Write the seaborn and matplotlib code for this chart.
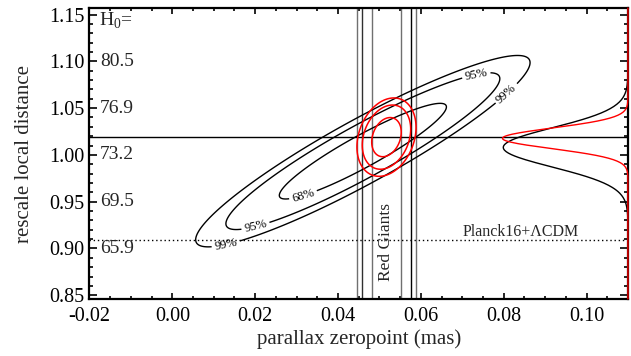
import numpy as np
import matplotlib
matplotlib.use('Agg')
import matplotlib.pyplot as plt
import seaborn as sns

# axis ranges / ticks
x_lim = [-0.02, 0.11]
y_lim = [0.846, 1.157]
x_ticks = [-0.02, 0.00, 0.02, 0.04, 0.06, 0.08, 0.10]
y_ticks = [0.85, 0.90, 0.95, 1.00, 1.05, 1.10, 1.15]

# H0 labels on the inside of the y axis
h0_pos = [1.10, 1.05, 1.00, 0.95, 0.90]
h0_text = ['80.5', '76.9', '73.2', '69.5', '65.9']

# black constraint (center, sigmas, correlation)
black_center = [0.046, 1.004]
black_sigma = [0.0133, 0.0337]
black_rho = 0.925

# red giants constraint
red_center = [0.0517, 1.019]
red_sigma = [0.00235, 0.0138]
red_rho = 0.25

# chi2 levels for 68 / 95 / 99 %
chi2_levels = [2.30, 6.18, 9.21]
level_names = ['68%', '95%', '99%']

# where the contour labels sit
label_pos = [(0.0315, 0.958), (0.0199, 0.927), (0.0127, 0.909),
             (0.0734, 1.085), (0.0806, 1.066)]

# red giant band lines
rg_x = [0.0447, 0.0458, 0.0481, 0.0553, 0.0577, 0.0589]
rg_col = ['#707070', '#303030', '#707070', '#707070', '#000000', '#707070']

# horizontal lines
local_line = 1.019
planck_line = 0.909

# marginal curves on the right (center, sigma, peak x)
black_marg = [1.008, 0.021, 0.0799]
red_marg = [1.0177, 0.011, 0.0797]

sns.set_theme(style='ticks')
plt.rcParams['font.family'] = ['Liberation Serif', 'DejaVu Serif']
plt.rcParams['mathtext.fontset'] = 'custom'
plt.rcParams['mathtext.rm'] = 'Liberation Serif'

fig = plt.figure(figsize=(6.31, 3.56), dpi=100)
ax = fig.add_axes([0.1418, 0.1601, 0.9952 - 0.1418, 0.9775 - 0.1601])

def chi2_grid(center, sigma, rho, X, Y):
    dx = (X - center[0]) / sigma[0]
    dy = (Y - center[1]) / sigma[1]
    return (dx**2 - 2 * rho * dx * dy + dy**2) / (1 - rho**2)

gx = np.linspace(x_lim[0], x_lim[1], 600)
gy = np.linspace(y_lim[0], y_lim[1], 600)
X, Y = np.meshgrid(gx, gy)

# red giant band
for xv, c in zip(rg_x, rg_col):
    ax.axvline(xv, color=c, lw=1.0)

ax.axhline(local_line, color='black', lw=1.0)
ax.axhline(planck_line, color='black', lw=1.0, ls=(0, (1, 2)))

cs = ax.contour(X, Y, chi2_grid(black_center, black_sigma, black_rho, X, Y),
                levels=chi2_levels, colors='black', linewidths=1.0)
ax.clabel(cs, fmt=dict(zip(chi2_levels, level_names)), fontsize=9,
          manual=label_pos, inline=True, inline_spacing=3)

ax.contour(X, Y, chi2_grid(red_center, red_sigma, red_rho, X, Y),
           levels=chi2_levels, colors='red', linewidths=1.1)

# marginals hanging from the right edge
yy = np.linspace(y_lim[0], y_lim[1], 400)
for (c, s, p), col in zip([black_marg, red_marg], ['black', 'red']):
    xx = x_lim[1] - (x_lim[1] - p) * np.exp(-0.5 * ((yy - c) / s) ** 2)
    sns.lineplot(x=xx, y=yy, orient='y', sort=False, estimator=None,
                 color=col, lw=1.0, ax=ax, clip_on=False, zorder=3)

ax.text(0.0517, 0.907, 'Red Giants', rotation=90, ha='center', va='center',
        fontsize=12.5)
ax.text(0.0700, 0.918, 'Planck16+ΛCDM', ha='left', va='center', fontsize=11.5)

ax.text(-0.0178, 1.143, 'H$_0$=', ha='left', va='center', fontsize=14)
for yv, t in zip(h0_pos, h0_text):
    ax.text(-0.0175, yv, t, ha='left', va='center', fontsize=14)

ax.set_xlim(x_lim)
ax.set_ylim(y_lim)
ax.set_xticks(x_ticks)
ax.set_xticklabels([f'{v:.2f}' for v in x_ticks])
ax.set_yticks(y_ticks)
ax.set_yticklabels([f'{v:.2f}' for v in y_ticks])
ax.xaxis.set_minor_locator(matplotlib.ticker.MultipleLocator(0.005))
ax.yaxis.set_minor_locator(matplotlib.ticker.MultipleLocator(0.01))
ax.tick_params(axis='both', which='both', direction='in', top=True, right=True,
               labelsize=14.5, colors='black', width=1.2)
ax.tick_params(axis='x', which='major', length=4.5, pad=6)
ax.tick_params(axis='x', which='minor', length=2.5)
ax.tick_params(axis='y', which='major', length=6)
ax.tick_params(axis='y', which='minor', length=3)
for sp in ax.spines.values():
    sp.set_linewidth(1.6)
    sp.set_color('black')

ax.set_xlabel('parallax zeropoint (mas)', fontsize=15, labelpad=2)
ax.set_ylabel('rescale local distance', fontsize=15, labelpad=11)

fig.savefig('out.png', dpi=100)
